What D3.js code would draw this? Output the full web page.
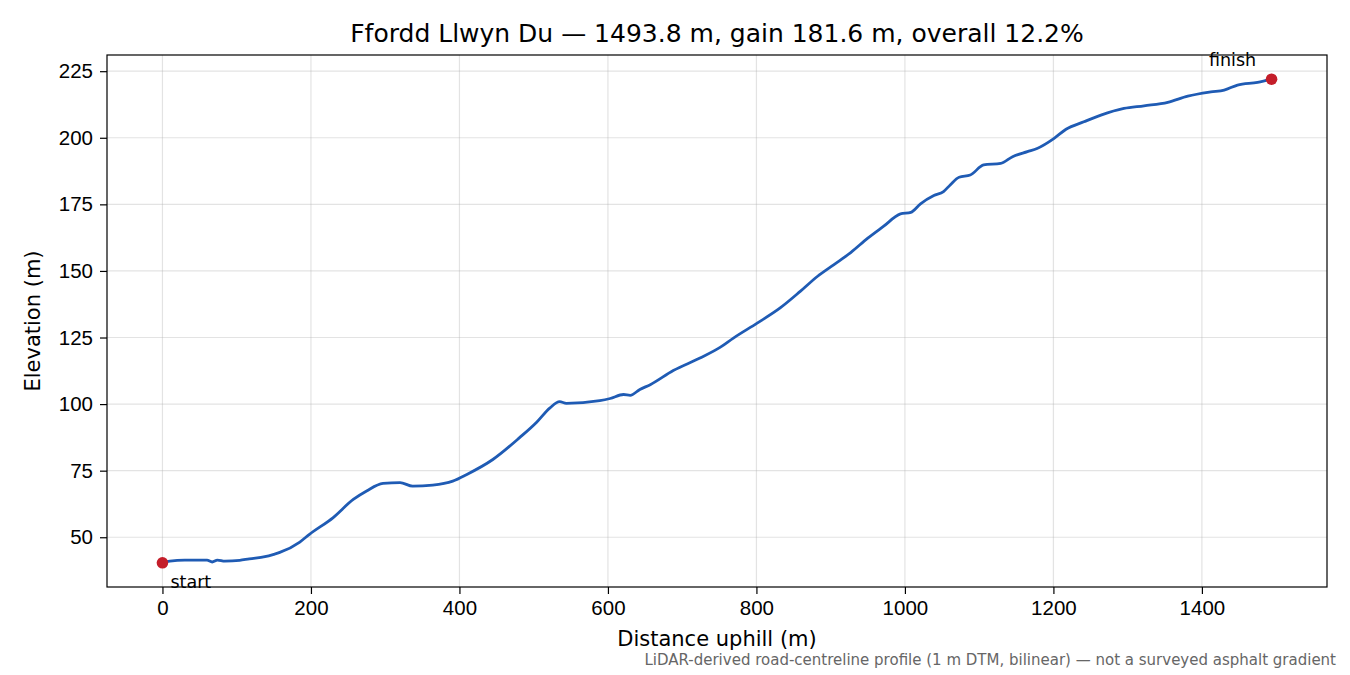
<!DOCTYPE html>
<html>
<head>
<meta charset="utf-8">
<script src="https://cdn.jsdelivr.net/npm/d3@7"></script>
<style>
  body { margin: 0; background: #fff; }
  svg { display: block; font-family: "DejaVu Sans", sans-serif; }
  .grid line { stroke: #b0b0b0; stroke-opacity: 0.35; stroke-width: 1.2; }
  .axis text { font-size: 20.5px; fill: #000; }
  .axis path, .axis line { stroke: #000; stroke-width: 1.2; }
</style>
</head>
<body>
<div id="chart"></div>
<script>
// 剖面数据: 距离 (m) 与高程 (m)
const distance = [0, 10, 30, 60, 67, 74, 84, 104, 117, 138, 150, 158, 185, 198, 230, 257, 275, 297, 320, 337, 364, 391, 410, 445, 481, 504, 522, 535, 544, 589, 603, 621, 630, 643, 657, 688, 724, 751, 769, 801, 832, 859, 882, 904, 927, 950, 971, 994, 1008, 1021, 1039, 1052, 1061, 1073, 1088, 1106, 1129, 1145, 1165, 1178, 1201, 1217, 1241, 1264, 1295, 1322, 1354, 1381, 1412, 1430, 1448, 1475, 1493.8];
const elevation = [40.4, 41.0, 41.4, 41.4, 40.7, 41.4, 41.0, 41.3, 41.9, 42.7, 43.6, 44.3, 48.2, 51.1, 57.4, 64.2, 67.4, 70.2, 70.5, 69.2, 69.6, 71.1, 73.6, 79.2, 87.4, 93.2, 98.6, 100.9, 100.3, 101.3, 102.1, 103.6, 103.3, 105.5, 107.3, 112.6, 117.3, 121.3, 124.8, 130.4, 136.1, 142.3, 147.9, 152.3, 156.9, 162.3, 166.7, 171.4, 172.0, 175.2, 178.3, 179.8, 182.3, 185.2, 186.0, 189.8, 190.4, 192.9, 194.8, 196.0, 199.8, 203.2, 206.0, 208.5, 211.0, 212.0, 213.3, 215.6, 217.2, 217.9, 219.8, 220.8, 222.0];
const xTicks = [0, 200, 400, 600, 800, 1000, 1200, 1400];
const yTicks = [50, 75, 100, 125, 150, 175, 200, 225];

const titleText = "Ffordd Llwyn Du — 1493.8 m, gain 181.6 m, overall 12.2%";
const footnote = "LiDAR-derived road-centreline profile (1 m DTM, bilinear) — not a surveyed asphalt gradient";

const W = 1350, H = 675;
const margin = { top: 55, right: 23, bottom: 88, left: 107 };
const width = W - margin.left - margin.right;
const height = H - margin.top - margin.bottom;

const points = distance.map((d, i) => ({ d: d, e: elevation[i] }));

const svg = d3.select("#chart").append("svg")
    .attr("width", W)
    .attr("height", H);

const g = svg.append("g")
    .attr("transform", `translate(${margin.left},${margin.top})`);

// 5% 边距, 与 matplotlib 默认一致
const dx = d3.extent(distance), dy = d3.extent(elevation);
const padX = (dx[1] - dx[0]) * 0.05, padY = (dy[1] - dy[0]) * 0.05;

const x = d3.scaleLinear().domain([dx[0] - padX, dx[1] + padX]).range([0, width]);
const y = d3.scaleLinear().domain([dy[0] - padY, dy[1] + padY]).range([height, 0]);

// 网格
g.append("g").attr("class", "grid")
    .selectAll("line.v").data(xTicks).enter().append("line")
    .attr("x1", d => x(d)).attr("x2", d => x(d))
    .attr("y1", 0).attr("y2", height);
g.append("g").attr("class", "grid")
    .selectAll("line.h").data(yTicks).enter().append("line")
    .attr("y1", d => y(d)).attr("y2", d => y(d))
    .attr("x1", 0).attr("x2", width);

// 坐标轴
const xAxis = g.append("g").attr("class", "axis")
    .attr("transform", `translate(0,${height})`)
    .call(d3.axisBottom(x).tickValues(xTicks).tickSize(7).tickPadding(6).tickFormat(d3.format("d")));
const yAxis = g.append("g").attr("class", "axis")
    .call(d3.axisLeft(y).tickValues(yTicks).tickSize(7).tickPadding(7).tickFormat(d3.format("d")));
xAxis.select(".domain").remove();
yAxis.select(".domain").remove();

// 高程线
const line = d3.line().x(d => x(d.d)).y(d => y(d.e)).curve(d3.curveMonotoneX);
g.append("path")
    .datum(points)
    .attr("fill", "none")
    .attr("stroke", "#1f5bb4")
    .attr("stroke-width", 2.8)
    .attr("stroke-linejoin", "round")
    .attr("d", line);

// 起点与终点
const ends = [points[0], points[points.length - 1]];
g.selectAll("circle.end").data(ends).enter().append("circle")
    .attr("cx", d => x(d.d)).attr("cy", d => y(d.e))
    .attr("r", 5.8)
    .attr("fill", "#c41e2a");

g.append("text")
    .attr("x", x(ends[0].d) + 8).attr("y", y(ends[0].e) + 25)
    .style("font-size", "17.5px")
    .text("start");
g.append("text")
    .attr("x", x(ends[1].d) - 39).attr("y", y(ends[1].e) - 13)
    .attr("text-anchor", "middle")
    .style("font-size", "17.5px")
    .text("finish");

// 边框
g.append("rect")
    .attr("width", width).attr("height", height)
    .attr("fill", "none").attr("stroke", "#000").attr("stroke-width", 1.2);

// 标题与轴标签
svg.append("text")
    .attr("x", margin.left + width / 2).attr("y", 42)
    .attr("text-anchor", "middle")
    .style("font-size", "25px")
    .text(titleText);

svg.append("text")
    .attr("x", margin.left + width / 2).attr("y", 646)
    .attr("text-anchor", "middle")
    .style("font-size", "21px")
    .text("Distance uphill (m)");

svg.append("text")
    .attr("transform", `translate(40,${margin.top + height / 2}) rotate(-90)`)
    .attr("text-anchor", "middle")
    .style("font-size", "21px")
    .text("Elevation (m)");

svg.append("text")
    .attr("x", 1336).attr("y", 665)
    .attr("text-anchor", "end")
    .style("font-size", "15px")
    .attr("fill", "#666")
    .text(footnote);
</script>
</body>
</html>
